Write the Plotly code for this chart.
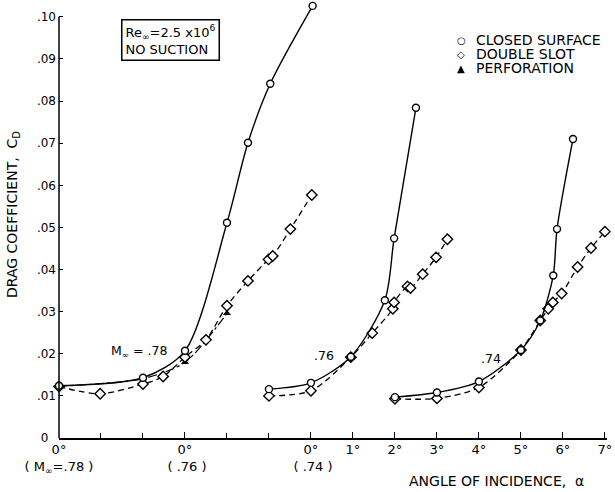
import plotly.graph_objects as go

# ---------------- data (alpha in degrees, CD) ----------------
mach_offsets = {".78": 0, ".76": 3, ".74": 6}   # axis shift of each Mach group

closed_78_alpha = [0, 2, 3, 4, 4.5, 5.03, 6.04]
closed_78_cd = [0.0124, 0.0143, 0.0207, 0.0511, 0.0701, 0.0841, 0.1026]
slot_78_alpha = [0, 0.98, 2, 2.48, 3, 3.5, 4, 4.5, 4.99, 5.09, 5.51, 6.02]
slot_78_cd = [0.0122, 0.0105, 0.0128, 0.0146, 0.0192, 0.0233, 0.0314, 0.0373, 0.0424, 0.0432, 0.0496, 0.0577]
perf_78_alpha = [0, 2, 3, 4]
perf_78_cd = [0.0123, 0.0141, 0.0180, 0.0296]

closed_76_alpha = [2, 3, 3.95, 4.76, 4.98, 5.5]
closed_76_cd = [0.0116, 0.0131, 0.0193, 0.0327, 0.0474, 0.0784]
slot_76_alpha = [2, 3, 3.95, 4.46, 4.95, 4.98, 5.3, 5.37, 5.66, 5.98, 6.25]
slot_76_cd = [0.0100, 0.0112, 0.0192, 0.0249, 0.0307, 0.0322, 0.0360, 0.0356, 0.0389, 0.0429, 0.0472]
perf_76_alpha = [3.95, 5.35]
perf_76_cd = [0.0190, 0.0357]

closed_74_alpha = [2, 3, 4, 5, 5.46, 5.77, 5.86, 6.24]
closed_74_cd = [0.0097, 0.0108, 0.0134, 0.0209, 0.0279, 0.0386, 0.0496, 0.0710]
slot_74_alpha = [2, 3, 4, 5, 5.46, 5.65, 5.76, 5.97, 6.35, 6.67, 7.0]
slot_74_cd = [0.0093, 0.0094, 0.0120, 0.0209, 0.0279, 0.0307, 0.0322, 0.0343, 0.0406, 0.0451, 0.0490]
perf_74_alpha = [2]
perf_74_cd = [0.0096]

tick_positions = [0, 3, 6, 7, 8, 9, 10, 11, 12, 13]
tick_labels = ["0°<br>( M<sub>∞</sub>=.78 )", "0°<br>\u00a0( .76 )", "0°<br>\u00a0( .74 )",
               "1°", "2°", "3°", "4°", "5°", "6°", "7°"]
y_ticks = [0, 0.01, 0.02, 0.03, 0.04, 0.05, 0.06, 0.07, 0.08, 0.09, 0.10]
y_labels = ["0\u00a0\u00a0", ".01", ".02", ".03", ".04", ".05", ".06", ".07", ".08", ".09", ".10"]

FONT = "DejaVu Sans"
fig = go.Figure()

def shift(alpha, mach):
    return [a + mach_offsets[mach] for a in alpha]

groups = [
    (".78", closed_78_alpha, closed_78_cd, slot_78_alpha, slot_78_cd, perf_78_alpha, perf_78_cd),
    (".76", closed_76_alpha, closed_76_cd, slot_76_alpha, slot_76_cd, perf_76_alpha, perf_76_cd),
    (".74", closed_74_alpha, closed_74_cd, slot_74_alpha, slot_74_cd, perf_74_alpha, perf_74_cd),
]

for mach, ca, cc, sa, sc, pa, pc in groups:
    fig.add_trace(go.Scatter(
        x=shift(pa, mach), y=pc,
        mode="lines+markers" if len(pa) > 2 else "markers",
        line=dict(color="black", width=1.2, dash="dashdot", shape="spline", smoothing=0.8),
        marker=dict(symbol="triangle-up", size=7, color="black"),
        showlegend=False, cliponaxis=False))
    fig.add_trace(go.Scatter(
        x=shift(sa, mach), y=sc, mode="lines+markers",
        line=dict(color="black", width=1.3, dash="6px,4px", shape="spline", smoothing=0.8),
        marker=dict(symbol="diamond", size=8, color="white", line=dict(color="black", width=1.4)),
        showlegend=False, cliponaxis=False))
    fig.add_trace(go.Scatter(
        x=shift(ca, mach), y=cc, mode="lines+markers",
        line=dict(color="black", width=1.4, shape="spline", smoothing=0.8),
        marker=dict(symbol="circle", size=7, color="white", line=dict(color="black", width=1.4)),
        showlegend=False, cliponaxis=False))

fig.update_layout(
    width=615, height=492,
    margin=dict(l=59, r=8, t=0, b=54),
    paper_bgcolor="white", plot_bgcolor="white",
    font=dict(family=FONT, size=12, color="black"),
    showlegend=False,
)
fig.update_xaxes(
    range=[0, 13.05], tickmode="array", tickvals=tick_positions, ticktext=tick_labels,
    showline=True, linecolor="black", linewidth=1.5, ticks="inside", ticklen=6,
    tickcolor="black", tickwidth=1.2, showgrid=False, zeroline=False,
    tickfont=dict(family=FONT, size=13), automargin=False, ticklabelstandoff=-1,
    minor=dict(ticks="inside", ticklen=5, tickcolor="black", tickwidth=1.2,
               tickmode="linear", tick0=0, dtick=1, showgrid=False),
)
fig.update_yaxes(
    range=[0, 0.104], tickmode="array", tickvals=y_ticks, ticktext=y_labels,
    showline=False, ticks="inside", ticklen=4, tickcolor="black", tickwidth=1.2,
    showgrid=False, zeroline=False, tickfont=dict(family=FONT, size=12), automargin=False,
    ticklabelstandoff=2,
)
fig.add_shape(type="line", xref="paper", yref="y", x0=0, x1=0, y0=0, y1=0.10,
              line=dict(color="black", width=1.5))

PW, PH = 548, 438
def px_x(p):
    return (p - 59) / PW
def px_y(p):
    return (438 - p) / PH

fig.add_annotation(text="ANGLE OF INCIDENCE,  α", xref="paper", yref="paper",
                   x=px_x(496), y=px_y(481), xanchor="center", yanchor="middle",
                   showarrow=False, font=dict(family=FONT, size=14))
fig.add_annotation(text="DRAG COEFFICIENT,  C<sub>D</sub>", xref="paper", yref="paper",
                   x=px_x(13), y=px_y(215), xanchor="center", yanchor="middle",
                   textangle=-90, showarrow=False, font=dict(family=FONT, size=14))

fig.add_annotation(text="M<sub>∞</sub> = .78", x=1.91, y=0.0205, showarrow=False,
                   font=dict(family=FONT, size=12.5))
fig.add_annotation(text=".76", x=6.32, y=0.0195, showarrow=False, font=dict(family=FONT, size=12.5))
fig.add_annotation(text=".74", x=10.29, y=0.0189, showarrow=False, font=dict(family=FONT, size=12.5))

fig.add_annotation(text="Re<sub>∞</sub>=2.5 x10<sup>6</sup><br>NO SUCTION",
                   xref="paper", yref="paper", x=px_x(170), y=px_y(40),
                   xanchor="center", yanchor="middle",
                   showarrow=False, align="left", bordercolor="black", borderwidth=1.5,
                   borderpad=3, bgcolor="white", font=dict(family=FONT, size=13))

legend_symbols = ["○", "◇", "▲"]
legend_rows = ["CLOSED SURFACE", "DOUBLE SLOT", "PERFORATION"]
for i, (sym, row) in enumerate(zip(legend_symbols, legend_rows)):
    yy = px_y(40 + 14 * i)
    fig.add_annotation(text=sym, xref="paper", yref="paper", x=px_x(461), y=yy,
                       xanchor="center", yanchor="middle", showarrow=False,
                       font=dict(family=FONT, size=10))
    fig.add_annotation(text=row, xref="paper", yref="paper", x=px_x(474), y=yy,
                       xanchor="left", yanchor="middle", showarrow=False,
                       font=dict(family=FONT, size=14))

fig.write_html("out.html", config={"displayModeBar": False},
               post_script="document.body.style.margin='0';")
